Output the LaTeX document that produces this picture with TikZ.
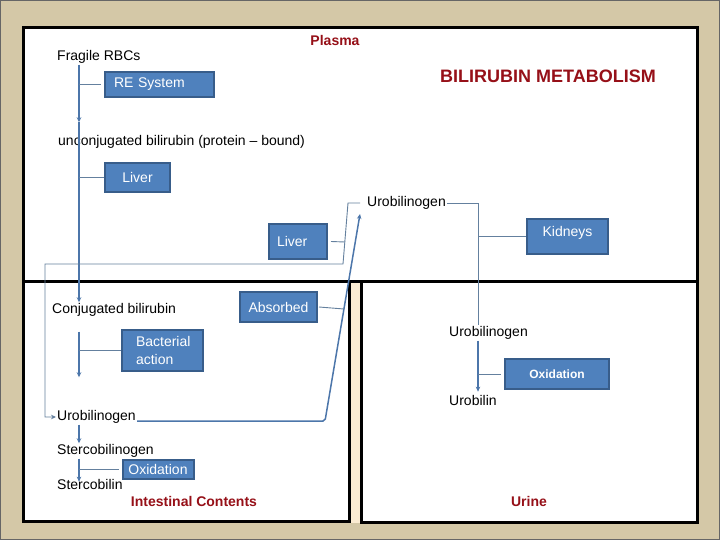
\documentclass[tikz,border=0pt]{standalone}
\usepackage{fontspec}
\setmainfont{Liberation Sans}
\usetikzlibrary{arrows.meta}

\definecolor{frametan}{RGB}{212,200,167}
\definecolor{gapcream}{RGB}{251,236,210}
\definecolor{boxblue}{RGB}{79,129,189}
\definecolor{boxedge}{RGB}{56,93,138}
\definecolor{flowblue}{RGB}{76,118,170}
\definecolor{thinblue}{RGB}{100,128,158}
\definecolor{titlered}{RGB}{150,16,24}

\begin{document}
\begin{tikzpicture}[x=1pt,y=-1pt,
    txt/.style={inner sep=1pt,font=\fontsize{14}{16}\selectfont},
    bluebox/.style={draw=boxedge,line width=2pt,fill=boxblue,text=white,inner sep=0pt,font=\fontsize{14}{16}\selectfont},
    heading/.style={text=titlered,inner sep=1pt,font=\bfseries\fontsize{14}{16}\selectfont},
    flow/.style={draw=flowblue,line width=1.8pt,-{Stealth[length=5pt,width=4.5pt]}},
    link/.style={draw=thinblue,line width=0.9pt}]
  % Draw the frame and the three panels
  \useasboundingbox (0,0) rectangle (720,540);
  \fill[frametan] (0,0) rectangle (720,540);
  \draw[gray!80!black,line width=1pt] (0.5,0.5) rectangle (719.5,539.5);
  \fill[gapcream] (349,281) rectangle (361,523);
  \fill[white] (23,28) rectangle (697,281);
  \fill[white] (23,281) rectangle (349,521);
  \fill[white] (361,281) rectangle (697,522);
  \draw[line width=3pt] (23,28) rectangle (697,281);
  \draw[line width=3pt] (23,281) rectangle (349,521);
  \draw[line width=3pt] (361,281) rectangle (697,522);

  % Headings
  \node[heading] (plasma) at (335,40) {Plasma};
  \node[heading,font=\bfseries\fontsize{18}{20}\selectfont] (title) at (548,76) {BILIRUBIN METABOLISM};
  \node[heading] (intest) at (194,501) {Intestinal Contents};
  \node[heading] (urine) at (529,501) {Urine};

  % Plasma panel
  \node[txt,anchor=west] (rbc) at (56,57) {Fragile RBCs};
  \node[bluebox,text width=91pt,inner xsep=9pt,minimum height=25pt] (resys) at (159.5,84.5) {RE System};
  \node[txt,anchor=west] (unconj) at (57,142) {unconjugated bilirubin (protein -- bound)};
  \node[bluebox,text width=50pt,inner xsep=7.5pt,align=center,minimum height=29pt] (liverA) at (137.5,177.5) {Liver};
  \node[txt,anchor=west] (urobT) at (366,203) {Urobilinogen};
  \node[bluebox,text width=50pt,inner xsep=4pt,align=left,minimum height=35pt] (liverB) at (298,241.5) {\hspace*{4pt}Liver};
  \node[bluebox,minimum width=81pt,minimum height=35pt,text depth=10pt] (kidneys) at (567.5,236.5) {Kidneys};

  % Intestine panel
  \node[txt,anchor=west] (conj) at (51,310) {Conjugated bilirubin};
  \node[bluebox,minimum width=77pt,minimum height=30pt] (absorbed) at (278.5,307) {Absorbed};
  \node[bluebox,text width=53pt,inner xsep=14pt,minimum height=41pt,align=left,font=\fontsize{14}{18}\selectfont] (bact) at (162.5,350.5) {Bacterial\\action};
  \node[txt,anchor=west] (urobL) at (56,417) {Urobilinogen};
  \node[txt,anchor=west] (stercogen) at (56,451) {Stercobilinogen};
  \node[bluebox,minimum width=71pt,minimum height=19pt] (oxL) at (158,469.5) {Oxidation};
  \node[txt,anchor=west] (stercobilin) at (56,484) {Stercobilin};

  % Urine panel
  \node[txt,anchor=west] (urobR) at (448,333) {Urobilinogen};
  \node[bluebox,minimum width=104pt,minimum height=30pt,font=\bfseries\fontsize{12}{14}\selectfont] (oxR) at (557,374) {Oxidation};
  \node[txt,anchor=west] (urobilin) at (448,400) {Urobilin};

  % Spines and bends
  \coordinate (spineL) at (79,0);
  \coordinate (spineR) at (478,203);
  \coordinate (bendA) at (348,203);
  \coordinate (bendB) at (343,264);
  \coordinate (bendC) at (45,264);
  \coordinate (liverJoin) at (345,242);
  \coordinate (bendD) at (325,421);
  \coordinate (bendE) at (360,214);
  \coordinate (absJoin) at (344,309);

  % Left spine
  \draw[flow] (rbc.south -| spineL) -- ([yshift=12pt]unconj.north -| spineL);
  \draw[flow] ([yshift=12pt]unconj.north -| spineL) -- (conj.north -| spineL);
  \draw[link] (resys.west -| spineL) -- ([xshift=-3pt]resys.west);
  \draw[link] (liverA.west -| spineL) -- (liverA.west);
  \draw[flow] ([yshift=-14pt]conj.south -| spineL) -- ([yshift=32pt]urobL.north -| spineL);
  \draw[link] (bact.west -| spineL) -- (bact.west);
  \draw[flow] (urobL.south -| spineL) -- (stercogen.north -| spineL);
  \draw[flow] (stercogen.south -| spineL) -- ([yshift=-4pt]stercobilin.north -| spineL);
  \draw[link] (oxL.west -| spineL) -- ([xshift=-3pt]oxL.west);

  % Return loop through the liver
  \draw[link,-{Stealth[length=5pt,width=4.5pt]}] ([xshift=-6pt]urobT.west) -- (bendA) -- (bendB) -- (bendC) |- (urobL.west);
  \draw[link] ([xshift=3pt]liverB.east) -- (liverJoin);

  % Reabsorption
  \draw[flow,line width=1.5pt,rounded corners=2pt] ([yshift=-4pt]urobL.east) -- (bendD) -- (bendE);
  \draw[link] ([xshift=1pt]absorbed.east) -- (absJoin);

  % Right spine
  \draw[link] (urobT.east) -- (spineR) -- (spineR |- urobR.north);
  \draw[link] (kidneys.west -| spineR) -- (kidneys.west);
  \draw[flow] (urobR.south -| spineR) -- ([yshift=2pt]urobilin.north -| spineR);
  \draw[link] (oxR.west -| spineR) -- ([xshift=-3pt]oxR.west);
\end{tikzpicture}
\end{document}
